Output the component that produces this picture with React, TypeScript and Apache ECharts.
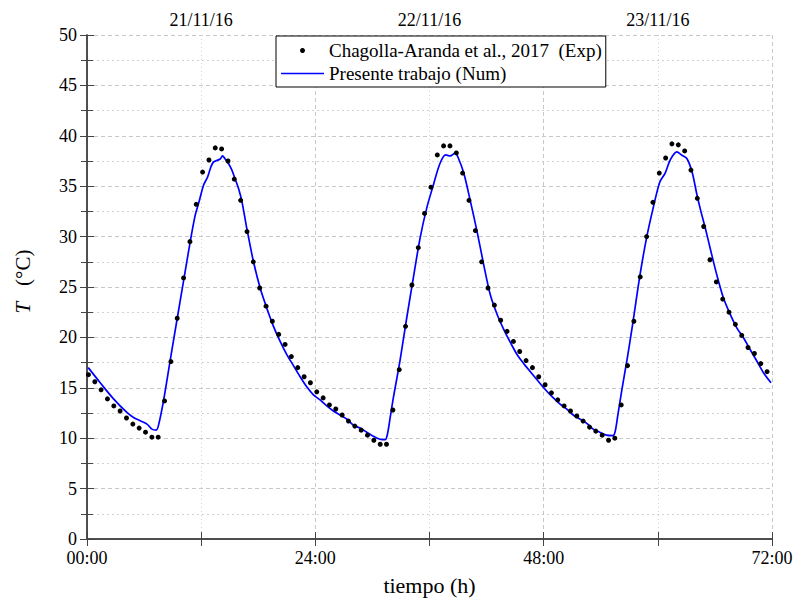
import React, { useEffect, useRef } from "react";
import * as echarts from "echarts";

const FONT = "Liberation Serif";

const xTickValues = [0, 24, 48, 72];
const xTickLabels = ["00:00", "24:00", "48:00", "72:00"];
const topTickValues = [12, 36, 60];
const topTickLabels = ["21/11/16", "22/11/16", "23/11/16"];

const expName = "Chagolla-Aranda et al., 2017  (Exp)";
const numName = "Presente trabajo (Num)";

// experimental measurements (hours, °C)
const expTime = [
  0.15, 0.82, 1.48, 2.15, 2.82, 3.48, 4.15, 4.82, 5.48, 6.15, 6.82, 7.48, 8.15, 8.82, 9.48, 10.15,
  10.82, 11.48, 12.15, 12.82, 13.48, 14.15, 14.82, 15.48, 16.15, 16.82, 17.48, 18.15, 18.82, 19.48,
  20.15, 20.82, 21.48, 22.15, 22.82, 23.48, 24.15, 24.82, 25.48, 26.15, 26.82, 27.48, 28.15, 28.82,
  29.48, 30.15, 30.82, 31.48, 32.15, 32.82, 33.48, 34.15, 34.82, 35.48, 36.15, 36.82, 37.48, 38.15,
  38.82, 39.48, 40.15, 40.82, 41.48, 42.15, 42.82, 43.48, 44.15, 44.82, 45.48, 46.15, 46.82, 47.48,
  48.15, 48.82, 49.48, 50.15, 50.82, 51.48, 52.15, 52.82, 53.48, 54.15, 54.82, 55.48, 56.15, 56.82,
  57.48, 58.15, 58.82, 59.48, 60.15, 60.82, 61.48, 62.15, 62.82, 63.48, 64.15, 64.82, 65.48, 66.15,
  66.82, 67.48, 68.15, 68.82, 69.48, 70.15, 70.82, 71.48,
];
const expTemp = [
  16.3, 15.6, 14.8, 13.9, 13.2, 12.7, 12.0, 11.4, 11.0, 10.6, 10.1, 10.1, 13.7, 17.6, 21.9, 25.9,
  29.5, 33.2, 36.4, 37.6, 38.8, 38.7, 37.5, 35.7, 33.6, 30.5, 27.5, 24.9, 23.1, 21.6,
  20.3, 19.3, 18.1, 17.0, 16.1, 15.5, 14.6, 14.0, 13.3, 12.9, 12.3, 11.7, 11.2, 10.8,
  10.3, 9.8, 9.4, 9.4, 12.8, 16.8, 21.1, 25.2, 28.9, 32.3, 34.9, 38.1, 39.0, 39.0,
  38.3, 36.3, 33.6, 30.6, 27.5, 24.9, 23.2, 21.7, 20.6, 19.6, 18.6, 17.7, 17.0, 16.1,
  15.3, 14.5, 13.8, 13.2, 12.7, 12.2, 11.7, 11.1, 10.7, 10.3, 9.8, 10.0, 13.3, 17.2,
  21.6, 26.0, 30.0, 33.4, 36.3, 37.8, 39.2, 39.1, 38.5, 36.6, 33.8, 31.0, 27.7, 25.5,
  23.8, 22.5, 21.3, 20.2, 19.0, 18.4, 17.4, 16.6,
];

// numerical simulation (hours, °C)
const numTime = [
  0.13, 1.39, 2.79, 4.19, 4.89, 5.59, 6.3, 6.82, 7.27, 7.52, 8.04, 8.74, 9.45, 10.15, 10.85, 11.37,
  11.79, 12.25, 12.67, 13.02, 13.3, 14.0, 14.24, 14.52, 14.87, 15.23, 15.5, 15.92, 16.28, 16.8,
  17.5, 18.2, 18.9, 19.6, 20.3, 21.0, 21.7, 22.4, 23.1, 23.8, 24.5, 25.2, 25.9, 26.6, 27.3, 28.0,
  28.7, 29.4, 30.1, 30.8, 31.34, 31.58, 31.87, 32.2, 32.9, 33.6, 34.3, 35.0, 35.7, 36.4, 37.1,
  37.7, 38.17, 38.7, 39.05, 39.6, 40.3, 41.0, 41.7, 42.4, 43.1, 43.8, 44.5, 45.2, 45.9, 46.6,
  47.3, 48.0, 48.7, 49.7, 50.4, 51.1, 51.8, 52.5, 53.2, 53.9, 54.6, 55.27, 55.5, 55.76, 56.2,
  56.8, 57.4, 58.1, 58.8, 59.5, 60.2, 60.77, 61.3, 62.0, 62.5, 63.05, 63.6, 64.1, 64.5, 65.0,
  65.5, 66.2, 66.9, 67.6, 68.3, 69.0, 69.7, 70.4, 71.1, 71.9,
];
const numTemp = [
  17.0, 15.5, 13.9, 12.55, 12.06, 11.73, 11.4, 10.9, 10.8, 11.3, 13.7, 17.7, 21.7, 25.6, 29.5, 32.1,
  33.5, 35.1, 35.9, 36.9, 37.4, 37.7, 38.0, 37.7, 37.25, 36.6, 35.9, 34.8, 33.5, 30.8,
  27.5, 24.9, 22.9, 21.1, 19.6, 18.3, 17.2, 16.1, 15.1, 14.3, 13.8, 13.2, 12.7, 12.3, 11.9, 11.3,
  11.0, 10.6, 10.2, 9.9, 9.85, 10.4, 12.06, 14.0, 17.7, 21.9, 25.9, 29.8, 32.8, 35.1, 37.25,
  38.1, 38.0, 38.3, 37.75, 36.3, 33.5, 30.5, 27.2, 24.2, 22.3, 20.8, 19.5, 18.3, 17.4, 16.6,
  15.8, 15.0, 14.3, 13.4, 12.9, 12.3, 11.9, 11.5, 10.9, 10.6, 10.3, 10.25, 10.6, 12.06, 14.7,
  18.0, 21.6, 26.05, 29.8, 32.8, 35.4, 36.3, 37.6, 38.4, 38.1, 37.75, 36.4, 34.2, 32.6, 30.8,
  28.85, 26.2, 23.9, 22.3, 20.95, 19.96, 18.8, 17.66, 16.5, 15.5,
];

const AXIS_COLOR = "#444";

export default function App() {
  const ref = useRef<HTMLDivElement>(null);

  useEffect(() => {
    document.body.style.margin = "0";
    if (!ref.current) return;
    const chart = echarts.init(ref.current, null, { renderer: "svg" });

    const expData = expTime.map((t, i) => [t, expTemp[i]]);
    const numData = numTime.map((t, i) => [t, numTemp[i]]);

    const tickStyle = { lineStyle: { color: AXIS_COLOR, width: 1 } };
    const axisLine = { show: true, lineStyle: { color: AXIS_COLOR, width: 1.5 } };
    const labelFont = { fontFamily: FONT, fontSize: 18, color: "#000" };

    chart.setOption({
      animation: false,
      backgroundColor: "#fff",
      textStyle: { fontFamily: FONT },
      grid: { left: 87, right: 24, top: 35, bottom: 59 },
      legend: {
        data: [
          { name: expName, icon: "circle" },
          { name: numName, icon: "path://M0,0 L43,0 L43,1.7 L0,1.7 Z" },
        ],
        orient: "vertical",
        left: 276,
        top: 36,
        itemWidth: 43,
        itemHeight: 5,
        itemGap: 4,
        padding: [5, 4, 4, 5],
        borderColor: "#000",
        borderWidth: 1,
        borderRadius: 0,
        backgroundColor: "#fff",
        textStyle: { fontFamily: FONT, fontSize: 19, color: "#000" },
      },
      xAxis: [
        {
          type: "value",
          position: "bottom",
          min: 0,
          max: 72,
          interval: 24,
          name: "tiempo (h)",
          nameLocation: "middle",
          nameGap: 35,
          nameTextStyle: { fontFamily: FONT, fontSize: 22, color: "#000" },
          axisLine,
          axisTick: { show: true, inside: true, length: 7, ...tickStyle },
          minorTick: { show: true, splitNumber: 2, length: 7, ...tickStyle },
          axisLabel: {
            ...labelFont,
            lineHeight: 18,
            margin: 10,
            formatter: (v: number) => {
              const i = xTickValues.indexOf(Math.round(v));
              return i >= 0 ? xTickLabels[i] : "";
            },
          },
          splitLine: { show: true, lineStyle: { color: "#c8c8c8", type: [4, 3], width: 1 } },
          minorSplitLine: { show: true, lineStyle: { color: "#d2d2d2", type: [1, 3], width: 1 } },
        },
        {
          type: "value",
          position: "top",
          min: 0,
          max: 72,
          interval: 12,
          axisLine,
          axisTick: { show: true, inside: true, length: 7, ...tickStyle },
          axisLabel: {
            ...labelFont,
            margin: 6,
            formatter: (v: number) => {
              const i = topTickValues.indexOf(Math.round(v));
              return i >= 0 ? topTickLabels[i] : "";
            },
          },
          splitLine: { show: false },
        },
      ],
      yAxis: [
        {
          type: "value",
          position: "left",
          min: 0,
          max: 50,
          interval: 5,
          name: "{i|T}   (°C)",
          nameLocation: "middle",
          nameGap: 54,
          nameTextStyle: {
            fontFamily: FONT,
            fontSize: 21,
            color: "#000",
            rich: {
              i: { fontFamily: FONT, fontSize: 21, fontStyle: "italic", color: "#000", padding: [0, 0, 0, 11] },
            },
          },
          axisLine,
          axisTick: { show: true, inside: true, length: 7, ...tickStyle },
          minorTick: { show: true, splitNumber: 2, length: 6, ...tickStyle },
          axisLabel: { ...labelFont, lineHeight: 15, margin: 10 },
          splitLine: { show: true, lineStyle: { color: "#c8c8c8", type: [4, 3], width: 1 } },
          minorSplitLine: { show: true, lineStyle: { color: "#d2d2d2", type: [2, 3], width: 1 } },
        },
        {
          type: "value",
          position: "right",
          min: 0,
          max: 50,
          interval: 5,
          axisLine,
          axisTick: { show: true, inside: true, length: 7, ...tickStyle },
          minorTick: { show: true, splitNumber: 2, length: 6, ...tickStyle },
          axisLabel: { show: false },
          splitLine: { show: false },
        },
      ],
      series: [
        {
          name: numName,
          type: "line",
          xAxisIndex: 0,
          yAxisIndex: 0,
          data: numData,
          symbol: "none",
          smooth: 0.3,
          lineStyle: { color: "#0000ff", width: 1.7 },
          itemStyle: { color: "#0000ff" },
          z: 2,
        },
        {
          name: expName,
          type: "scatter",
          xAxisIndex: 0,
          yAxisIndex: 0,
          data: expData,
          symbol: "circle",
          symbolSize: 5,
          itemStyle: { color: "#000", opacity: 1 },
          z: 3,
        },
      ],
    });

    return () => chart.dispose();
  }, []);

  return <div ref={ref} style={{ width: 796, height: 601 }} />;
}
